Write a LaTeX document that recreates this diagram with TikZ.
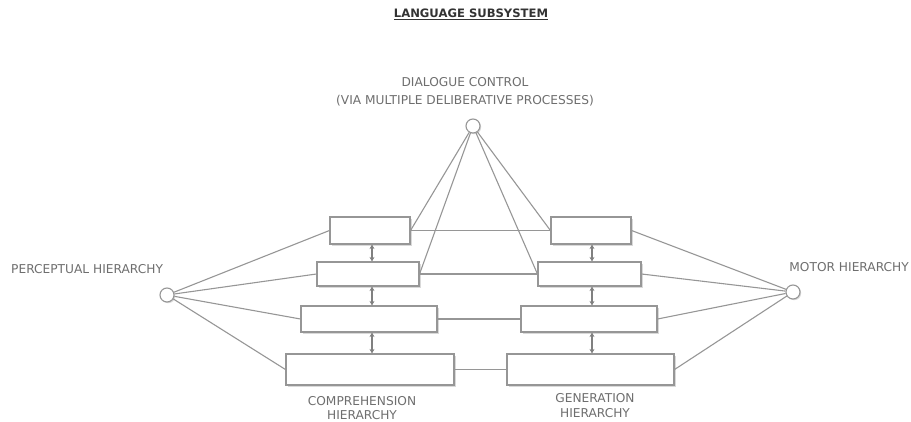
\documentclass[tikz,border=0pt]{standalone}
\usepackage{fontspec}
\setmainfont{DejaVu Sans}
\usetikzlibrary{shadows,arrows.meta}

\definecolor{linegray}{HTML}{969696}
\definecolor{textgray}{HTML}{6E6E6E}

\tikzset{
    levelbox/.style={draw=linegray, fill=white, line width=1.1pt, inner sep=0pt,
        drop shadow={shadow xshift=1.6pt, shadow yshift=-1.6pt, opacity=0.3, fill=black!50}},
    hub/.style={circle, draw=linegray, fill=white, line width=1.1pt, minimum size=14pt, inner sep=0pt,
        drop shadow={shadow xshift=1.2pt, shadow yshift=-1.2pt, opacity=0.3, fill=black!50}},
    link/.style={draw=linegray, line width=1.1pt},
    updown/.style={draw=gray, line width=1.4pt, {Stealth[length=4.5pt,width=5pt]}-{Stealth[length=4.5pt,width=5pt]}},
    caption/.style={text=textgray, font=\fontsize{12.2pt}{14.5pt}\selectfont, align=center, inner sep=0pt}
}

\begin{document}
\begin{tikzpicture}[x=1pt, y=-1pt]
        \useasboundingbox (0,0) rectangle (911,422);

        % Title
        \node[font=\bfseries\fontsize{11.6pt}{13pt}\selectfont, text=black!80, inner sep=0pt] (title) at (471,14) {\underline{LANGUAGE SUBSYSTEM}};

        % Hubs
        \node[hub] (dialogue) at (473,126) {};
        \node[hub] (percept) at (167,295) {};
        \node[hub] (motor) at (793,292) {};

        % Comprehension side
        \node[levelbox, minimum width=80pt, minimum height=27pt] (C1) at (370,230.5) {};
        \node[levelbox, minimum width=102pt, minimum height=24pt] (C2) at (368,274) {};
        \node[levelbox, minimum width=136pt, minimum height=26pt] (C3) at (369,319) {};
        \node[levelbox, minimum width=168pt, minimum height=31pt] (C4) at (370,369.5) {};

        % Generation side
        \node[levelbox, minimum width=80pt, minimum height=27pt] (G1) at (591,230.5) {};
        \node[levelbox, minimum width=103pt, minimum height=24pt] (G2) at (589.5,274) {};
        \node[levelbox, minimum width=136pt, minimum height=26pt] (G3) at (589,319) {};
        \node[levelbox, minimum width=167pt, minimum height=31pt] (G4) at (590.5,369.5) {};

        % Labels
        \node[caption, font=\fontsize{12.2pt}{18pt}\selectfont] (dialoguetxt) at (465,92) {DIALOGUE CONTROL\\(VIA MULTIPLE DELIBERATIVE PROCESSES)};
        \node[caption, anchor=west] (percepttxt) at (11,269.5) {PERCEPTUAL HIERARCHY};
        \node[caption, anchor=east] (motortxt) at (909,267) {MOTOR HIERARCHY};
        \node[caption] (comptxt) at (362,408) {COMPREHENSION\\HIERARCHY};
        \node[caption] (gentxt) at (595,405.5) {GENERATION\\HIERARCHY};

        % Perceptual hub to comprehension levels
        \foreach \n in {1,...,4}
            \draw[link] (percept) -- (C\n.west);

        % Motor hub to generation levels
        \foreach \n in {1,...,4}
            \draw[link] (motor) -- (G\n.east);

        % Across the two sides
        \foreach \n in {1,...,4}
            \draw[link] (C\n.east) -- (G\n.west);

        % Dialogue control to top levels
        \draw[link] (dialogue) -- (C1.east);
        \draw[link] (dialogue) -- (C2.east);
        \draw[link] (dialogue) -- (G1.west);
        \draw[link] (dialogue) -- (G2.west);

        % Between levels
        \draw[updown] ([xshift=2pt]C1.south) -- ([xshift=2pt]C1.south |- C2.north);
        \draw[updown] ([xshift=4pt]C2.south) -- ([xshift=4pt]C2.south |- C3.north);
        \draw[updown] ([xshift=3pt]C3.south) -- ([xshift=3pt]C3.south |- C4.north);
        \draw[updown] ([xshift=1pt]G1.south) -- ([xshift=1pt]G1.south |- G2.north);
        \draw[updown] ([xshift=2.5pt]G2.south) -- ([xshift=2.5pt]G2.south |- G3.north);
        \draw[updown] ([xshift=3pt]G3.south) -- ([xshift=3pt]G3.south |- G4.north);
    \end{tikzpicture}
\end{document}
